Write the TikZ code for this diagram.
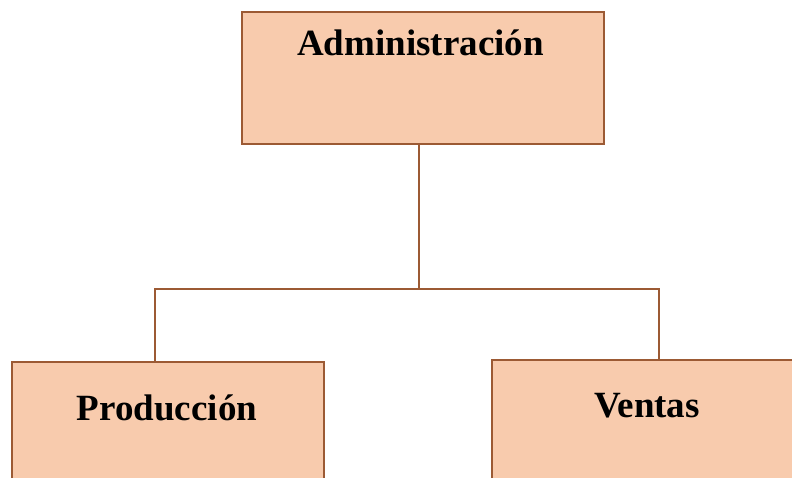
\documentclass[tikz,border=0pt]{standalone}
\usepackage{fontspec}
\setmainfont{Liberation Serif}
\definecolor{boxfill}{HTML}{F8CBAD}
\definecolor{boxline}{HTML}{9C5A34}
\begin{document}
\begin{tikzpicture}[x=1pt,y=-1pt,
  orgbox/.style={draw=boxline, fill=boxfill, line width=2pt, inner sep=0pt, anchor=north west},
  orgtext/.style={font=\fontsize{37}{40}\selectfont\bfseries, anchor=base, inner sep=0pt, text=black},
  conn/.style={draw=boxline, line width=2pt}]
\useasboundingbox (0,0) rectangle (792,478);
\clip (0,0) rectangle (792,478);
\fill[white] (0,0) rectangle (792,478);
\node[orgbox, minimum width=362pt, minimum height=132pt] (adm) at (241,11) {};
\node[orgbox, minimum width=312pt, minimum height=160pt] (prod) at (11,361) {};
\node[orgbox, minimum width=310pt, minimum height=160pt] (ven) at (491,359) {};
\node[orgtext] (admt) at (420.5,56) {Administración};
\node[orgtext] (prodt) at (167,420) {Producción};
\node[orgtext] (vent) at (647,417) {Ventas};
\coordinate (barL) at (155,289);
\coordinate (barR) at (659,289);
\coordinate (admout) at (419,143);
\draw[conn] (admout) -- (admout |- barL);
\draw[conn, line cap=rect] (barL) -- (barR);
\draw[conn] (barL) -- (barL |- prod.north);
\draw[conn] (barR) -- (barR |- ven.north);
\end{tikzpicture}
\end{document}
